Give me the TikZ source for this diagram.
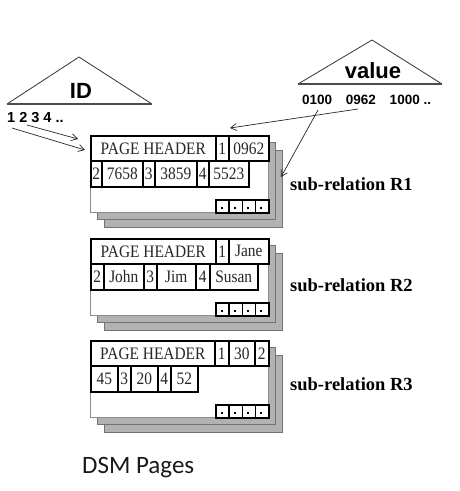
\documentclass[tikz,border=0pt]{standalone}
\usepackage{graphicx}
\usepackage{fontspec}
\setmainfont{Liberation Serif}
\newfontfamily\arialf{Liberation Sans}
\newfontfamily\calibf{Carlito}
\usetikzlibrary{arrows.meta}
\newcommand\dcell[6]{\node[cellst,anchor=north west,minimum width={((#3)-(#2))*1pt},minimum height={((#5)-(#4))*1pt}] (#1) at (#2,#4) {\scalebox{0.88}[1]{#6}};}
\newcommand\dsmpage[2]{%
  \draw[shadowst] (104,#1+15) rectangle (282,#1+92);
  \draw[shadowst] (97,#1+7.5) rectangle (275,#1+84.5);
  \draw[frontst] (90,#1) rectangle (268,#1+77);
  \dcell{#2d1}{215}{228.25}{#1+64}{#1+77}{}
  \dcell{#2d2}{228.25}{241.5}{#1+64}{#1+77}{}
  \dcell{#2d3}{241.5}{254.75}{#1+64}{#1+77}{}
  \dcell{#2d4}{254.75}{268}{#1+64}{#1+77}{}
  \foreach \dx in {221.6,234.9,248.1,261.4} {\fill (\dx-1,#1+72) rectangle (\dx+1,#1+74);}
}
\begin{document}
\begin{tikzpicture}[x=1pt,y=-1pt,
  cellst/.style={draw=black,line width=1.6pt,inner sep=0pt,text=black!85,font=\fontsize{17.5}{17.5}\selectfont},
  shadowst/.style={draw=black!55,fill=black!30,line width=0.8pt},
  frontst/.style={draw=black!45,fill=white,line width=0.6pt},
  tri/.style={draw=black!80,line width=0.8pt},
  triband/.style={draw=black!70,line width=1.6pt},
  ptr/.style={draw=black!85,line width=0.7pt,-{Straight Barb[length=6pt,width=7pt]}},
  lab/.style={font=\fontsize{18.5}{18.5}\selectfont\bfseries,anchor=base west,inner sep=0pt},
  sanslab/.style={font=\arialf\bfseries,anchor=base,inner sep=0pt}]
\useasboundingbox (0,0) rectangle (460,491);

% ID triangle
\draw[tri] (7,104) -- (79,57) -- (152,104);
\draw[triband] (7,104) -- (152,104);
\node[sanslab,font=\arialf\bfseries\fontsize{22}{22}\selectfont] (idt) at (81,98) {ID};
\node[sanslab,anchor=base west,font=\arialf\bfseries\fontsize{14.5}{14.5}\selectfont] (ids) at (7,122) {1 2 3 4 ..};

% value triangle
\draw[tri] (298,84) -- (372,40) -- (442,84);
\draw[triband] (298,84) -- (442,84);
\node[sanslab,font=\arialf\bfseries\fontsize{22}{22}\selectfont] (valt) at (373,78) {value};
\node[sanslab,anchor=base west,font=\arialf\bfseries\fontsize{13.5}{13.5}\selectfont] (vals) at (302,104) {0100\hspace{10pt} 0962\hspace{10pt} 1000 ..};

% page 1
\dsmpage{135}{pa}
\dcell{pah}{90}{215}{135}{160}{PAGE HEADER}
\dcell{pa1}{215}{228}{135}{160}{1}
\dcell{pa2}{228}{268}{135}{160}{0962}
\dcell{pa3}{90}{101}{160}{186}{2}
\dcell{pa4}{101}{142}{160}{186}{7658}
\dcell{pa5}{142}{154}{160}{186}{3}
\dcell{pa6}{154}{196}{160}{186}{3859}
\dcell{pa7}{196}{208}{160}{186}{4}
\dcell{pa8}{208}{248}{160}{186}{5523}
\node[lab] (r1) at (290,190) {sub-relation R1};

% page 2
\dsmpage{238}{pb}
\dcell{pbh}{90}{215}{238}{263}{PAGE HEADER}
\dcell{pb1}{215}{228}{238}{263}{1}
\dcell{pb2}{228}{268}{238}{263}{Jane}
\dcell{pb3}{90}{103}{263}{289}{2}
\dcell{pb4}{103}{143}{263}{289}{John}
\dcell{pb5}{143}{156}{263}{289}{3}
\dcell{pb6}{156}{195}{263}{289}{Jim}
\dcell{pb7}{195}{209}{263}{289}{4}
\dcell{pb8}{209}{257}{263}{289}{Susan}
\node[lab] (r2) at (290,291) {sub-relation R2};

% page 3
\dsmpage{340}{pc}
\dcell{pch}{90}{214}{340}{365}{PAGE HEADER}
\dcell{pc1}{214}{228}{340}{365}{1}
\dcell{pc2}{228}{254}{340}{365}{30}
\dcell{pc3}{254}{268}{340}{365}{2}
\dcell{pc4}{90}{117}{365}{391}{45}
\dcell{pc5}{117}{130}{365}{391}{3}
\dcell{pc6}{130}{157}{365}{391}{20}
\dcell{pc7}{157}{170}{365}{391}{4}
\dcell{pc8}{170}{197}{365}{391}{52}
\node[lab] (r3) at (290,390) {sub-relation R3};

% caption
\node[font=\calibf\fontsize{25}{25}\selectfont,anchor=base west,inner sep=0pt,text=black!90] (cap) at (82,473) {DSM Pages};

% pointers
\coordinate (ia) at (27,125);
\coordinate (ib) at (12,128);
\coordinate (ta) at (78,139);
\coordinate (tb) at (85,150);
\coordinate (va) at (358,109);
\coordinate (vb) at (318,110);
\coordinate (tva) at (230,128);
\coordinate (tvb) at (281,177);
\draw[ptr] (ia) -- (ta);
\draw[ptr] (ib) -- (tb);
\draw[ptr] (va) -- (tva);
\draw[ptr] (vb) -- (tvb);
\end{tikzpicture}
\end{document}
